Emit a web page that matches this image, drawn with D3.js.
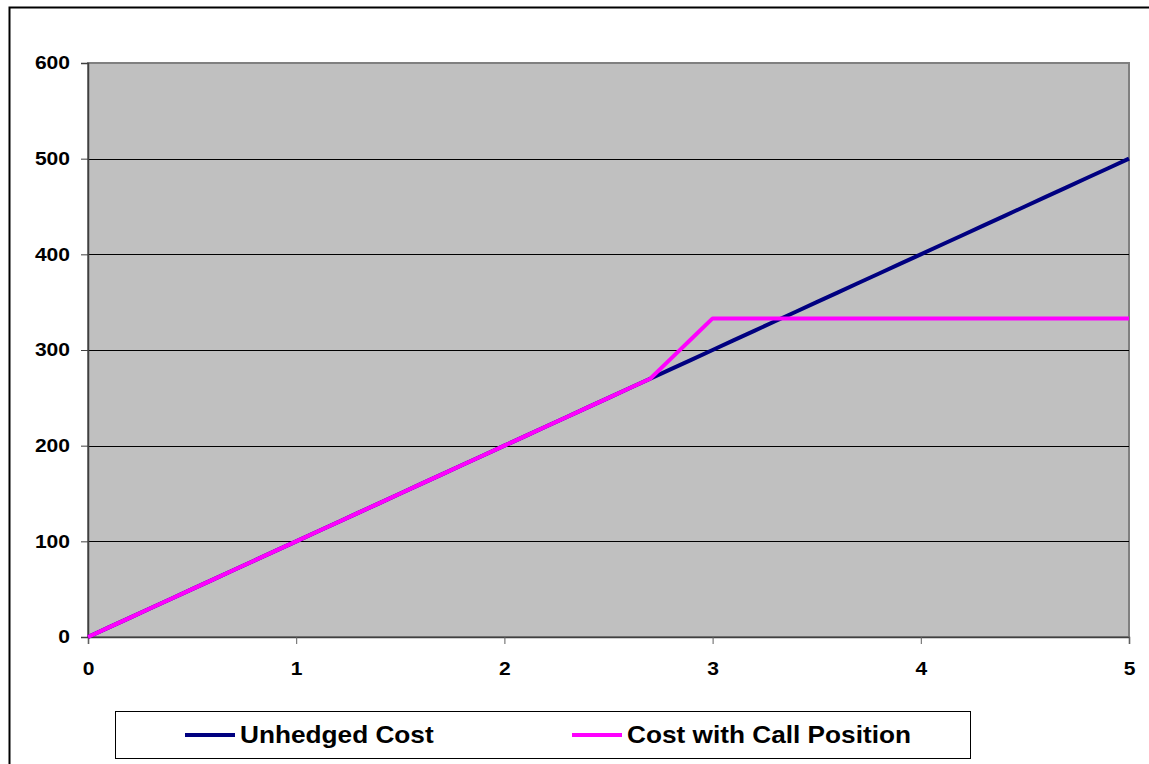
<!DOCTYPE html>
<html>
<head>
<meta charset="utf-8">
<script src="https://cdn.jsdelivr.net/npm/d3@7"></script>
<style>
  html, body { margin: 0; padding: 0; background: #ffffff; }
  svg { display: block; }
  text { font-family: Arial, "Liberation Sans", sans-serif; font-weight: bold; fill: #000; }
</style>
</head>
<body>
<svg id="chart" width="1149" height="764"></svg>
<script>
// Price of the underlying (x) and resulting cost (y)
const prices = [0, 0.1, 0.2, 0.3, 0.4, 0.5, 0.6, 0.7, 0.8, 0.9,
  1, 1.1, 1.2, 1.3, 1.4, 1.5, 1.6, 1.7, 1.8, 1.9,
  2, 2.1, 2.2, 2.3, 2.4, 2.5, 2.6, 2.7, 2.8, 2.9,
  3, 3.1, 3.2, 3.3, 3.4, 3.5, 3.6, 3.7, 3.8, 3.9,
  4, 4.1, 4.2, 4.3, 4.4, 4.5, 4.6, 4.7, 4.8, 4.9, 5];

const unhedgedCost = [0, 10, 20, 30, 40, 50, 60, 70, 80, 90,
  100, 110, 120, 130, 140, 150, 160, 170, 180, 190,
  200, 210, 220, 230, 240, 250, 260, 270, 280, 290,
  300, 310, 320, 330, 340, 350, 360, 370, 380, 390,
  400, 410, 420, 430, 440, 450, 460, 470, 480, 490, 500];

const callPositionCost = [0, 10, 20, 30, 40, 50, 60, 70, 80, 90,
  100, 110, 120, 130, 140, 150, 160, 170, 180, 190,
  200, 210, 220, 230, 240, 250, 260, 270, 291, 312,
  333, 333, 333, 333, 333, 333, 333, 333, 333, 333,
  333, 333, 333, 333, 333, 333, 333, 333, 333, 333, 333];

const seriesNames = ["Unhedged Cost", "Cost with Call Position"];
const seriesColors = ["#000080", "#ff00ff"];
const xTicks = [0, 1, 2, 3, 4, 5];
const yTicks = [0, 100, 200, 300, 400, 500, 600];

// Labels are drawn slightly widened, like the original chart's font
const TICK_STRETCH = 1.17;
const LEGEND_STRETCH = 1.14;

const svg = d3.select("#chart");

// Outer chart frame
svg.append("rect")
  .attr("x", 9.5).attr("y", 7.5)
  .attr("width", 1160).attr("height", 780)
  .attr("fill", "none").attr("stroke", "#000").attr("stroke-width", 2);

const plot = { left: 88, right: 1129, top: 63, bottom: 637 };

const x = d3.scaleLinear().domain([0, 5]).range([plot.left, plot.right]);
const y = d3.scaleLinear().domain([0, 600]).range([plot.bottom, plot.top]);

// Plot background
svg.append("rect")
  .attr("x", plot.left).attr("y", plot.top)
  .attr("width", plot.right - plot.left).attr("height", plot.bottom - plot.top)
  .attr("fill", "#c0c0c0")
  .attr("stroke", "#808080").attr("stroke-width", 2);

// Horizontal gridlines
svg.append("g")
  .selectAll("line")
  .data(yTicks.filter(d => d > 0 && d < 600))
  .join("line")
  .attr("x1", plot.left).attr("x2", plot.right)
  .attr("y1", d => Math.round(y(d)) + 0.5).attr("y2", d => Math.round(y(d)) + 0.5)
  .attr("stroke", "#000").attr("stroke-width", 1);

// Y axis
const yAxis = svg.append("g")
  .attr("transform", `translate(${plot.left},0)`)
  .call(d3.axisLeft(y).tickValues(yTicks).tickSize(7).tickPadding(11).tickFormat(d3.format("d")));
yAxis.select(".domain").attr("stroke", "#404040").attr("stroke-width", 1.5);
yAxis.selectAll(".tick line").attr("stroke", "#404040");
yAxis.selectAll(".tick text")
  .style("font-size", "18px").style("font-family", "Arial, 'Liberation Sans', sans-serif")
  .style("font-weight", "bold").attr("fill", "#000")
  .attr("x", -18 / TICK_STRETCH)
  .attr("transform", `scale(${TICK_STRETCH},1)`);

// X axis
const xAxis = svg.append("g")
  .attr("transform", `translate(0,${plot.bottom})`)
  .call(d3.axisBottom(x).tickValues(xTicks).tickSize(7).tickPadding(18).tickFormat(d3.format("d")));
xAxis.select(".domain").attr("stroke", "#404040").attr("stroke-width", 1.5);
xAxis.selectAll(".tick line").attr("stroke", "#606060");
xAxis.selectAll(".tick text")
  .style("font-size", "18px").style("font-family", "Arial, 'Liberation Sans', sans-serif")
  .style("font-weight", "bold").attr("fill", "#000")
  .attr("transform", `scale(${TICK_STRETCH},1)`);

// Series lines
const line = d3.line()
  .x(d => x(d[0]))
  .y(d => y(d[1]));

const series = [unhedgedCost, callPositionCost];
series.forEach((vals, i) => {
  svg.append("path")
    .datum(prices.map((p, k) => [p, vals[k]]))
    .attr("fill", "none")
    .attr("stroke", seriesColors[i])
    .attr("stroke-width", 4)
    .attr("stroke-linejoin", "round")
    .attr("d", line);
});

// Legend
const legend = svg.append("g");
legend.append("rect")
  .attr("x", 115.5).attr("y", 711.5)
  .attr("width", 855).attr("height", 47)
  .attr("fill", "#fff").attr("stroke", "#000").attr("stroke-width", 1);

const legendX = [185, 572];
seriesNames.forEach((name, i) => {
  legend.append("line")
    .attr("x1", legendX[i]).attr("x2", legendX[i] + 50)
    .attr("y1", 735).attr("y2", 735)
    .attr("stroke", seriesColors[i]).attr("stroke-width", 4);
  legend.append("g")
    .attr("transform", `translate(${legendX[i] + 55},735) scale(${LEGEND_STRETCH},1)`)
    .append("text")
    .attr("dy", "0.36em")
    .style("font-size", "23px")
    .text(name);
});
</script>
</body>
</html>
